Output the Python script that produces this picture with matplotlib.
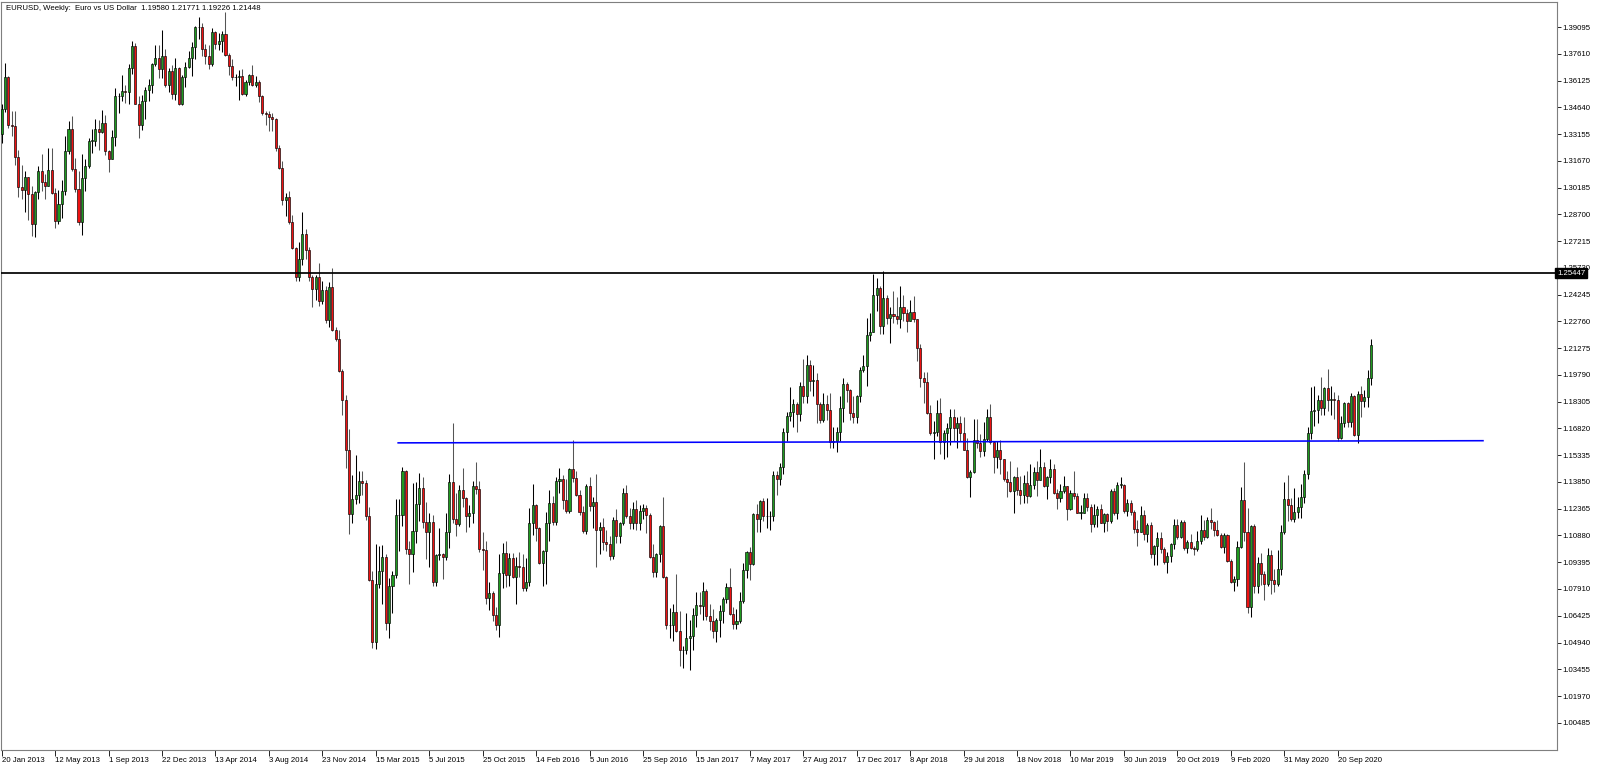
import matplotlib
matplotlib.use("Agg")
import matplotlib.pyplot as plt
import matplotlib.transforms as mtransforms

# Weekly EURUSD candles, one value per week starting with the week of 20 Jan 2013.
# Open of each week = close of the week before (first open given separately).
first_open = 1.3315

close_2013 = [1.3457, 1.3635, 1.3365, 1.3362, 1.3190, 1.3020, 1.3003, 1.3075, 1.2985, 1.2817,
              1.2993, 1.3110, 1.3050, 1.3030, 1.3115, 1.2990, 1.2836, 1.2930, 1.3000, 1.3220,
              1.3345, 1.3120, 1.3010, 1.2830, 1.3070, 1.3140, 1.3280, 1.3280, 1.3345, 1.3330,
              1.3380, 1.3220, 1.3180, 1.3300, 1.3525, 1.3525, 1.3555, 1.3550, 1.3685, 1.3805,
              1.3485, 1.3365, 1.3500, 1.3560, 1.3590, 1.3705, 1.3740, 1.3675, 1.3750, 1.3590]
high_2013 = [1.3480, 1.3711, 1.3640, 1.3445, 1.3445, 1.3225, 1.3145, 1.3110, 1.3075, 1.3030,
             1.3000, 1.3140, 1.3205, 1.3095, 1.3240, 1.3240, 1.3015, 1.3005, 1.3060, 1.3305,
             1.3390, 1.3415, 1.3185, 1.3110, 1.3205, 1.3175, 1.3295, 1.3345, 1.3400, 1.3395,
             1.3450, 1.3420, 1.3225, 1.3340, 1.3570, 1.3545, 1.3645, 1.3590, 1.3705, 1.3832,
             1.3820, 1.3525, 1.3530, 1.3575, 1.3620, 1.3710, 1.3810, 1.3810, 1.3893, 1.3790]
low_2013 = [1.3265, 1.3440, 1.3350, 1.3305, 1.3145, 1.2965, 1.2955, 1.2885, 1.2840, 1.2750,
            1.2745, 1.2955, 1.3000, 1.2955, 1.3030, 1.2985, 1.2795, 1.2815, 1.2850, 1.2980,
            1.3205, 1.3110, 1.2995, 1.2810, 1.2755, 1.3000, 1.3130, 1.3210, 1.3250, 1.3225,
            1.3320, 1.3200, 1.3105, 1.3175, 1.3250, 1.3435, 1.3500, 1.3490, 1.3485, 1.3650,
            1.3480, 1.3295, 1.3340, 1.3400, 1.3500, 1.3545, 1.3695, 1.3625, 1.3625, 1.3575]

close_2014 = [1.3665, 1.3540, 1.3680, 1.3485, 1.3635, 1.3690, 1.3740, 1.3800, 1.3910, 1.3910,
              1.3790, 1.3750, 1.3705, 1.3885, 1.3815, 1.3830, 1.3870, 1.3755, 1.3695, 1.3630,
              1.3635, 1.3640, 1.3540, 1.3605, 1.3645, 1.3590, 1.3605, 1.3525, 1.3430, 1.3425,
              1.3410, 1.3400, 1.3240, 1.3130, 1.2950, 1.2965, 1.2830, 1.2685, 1.2520, 1.2625,
              1.2760, 1.2670, 1.2525, 1.2455, 1.2525, 1.2390, 1.2450, 1.2285, 1.2465, 1.2230,
              1.2180, 1.2000]
high_2014 = [1.3685, 1.3700, 1.3740, 1.3690, 1.3645, 1.3715, 1.3775, 1.3825, 1.3915, 1.3966,
             1.3935, 1.3815, 1.3810, 1.3905, 1.3890, 1.3875, 1.3890, 1.3993, 1.3765, 1.3735,
             1.3650, 1.3670, 1.3675, 1.3615, 1.3650, 1.3700, 1.3640, 1.3615, 1.3530, 1.3445,
             1.3445, 1.3430, 1.3405, 1.3255, 1.3165, 1.2990, 1.3000, 1.2865, 1.2690, 1.2715,
             1.2885, 1.2790, 1.2690, 1.2535, 1.2535, 1.2600, 1.2500, 1.2470, 1.2495, 1.2570,
             1.2245, 1.2230]
low_2014 = [1.3550, 1.3510, 1.3505, 1.3475, 1.3475, 1.3575, 1.3685, 1.3640, 1.3735, 1.3845,
            1.3750, 1.3705, 1.3675, 1.3695, 1.3790, 1.3780, 1.3770, 1.3750, 1.3645, 1.3615,
            1.3585, 1.3505, 1.3530, 1.3525, 1.3590, 1.3580, 1.3575, 1.3495, 1.3420, 1.3365,
            1.3335, 1.3335, 1.3220, 1.3120, 1.2920, 1.2860, 1.2815, 1.2680, 1.2500, 1.2500,
            1.2590, 1.2620, 1.2500, 1.2358, 1.2395, 1.2360, 1.2375, 1.2270, 1.2245, 1.2225,
            1.2165, 1.1995]

close_2015 = [1.1840, 1.1565, 1.1205, 1.1290, 1.1315, 1.1390, 1.1380, 1.1195, 1.0840, 1.0495,
              1.0820, 1.0890, 1.0970, 1.0600, 1.0810, 1.0870, 1.1200, 1.1200, 1.1445, 1.1015,
              1.0985, 1.1115, 1.1265, 1.1350, 1.1165, 1.1105, 1.1165, 1.0830, 1.0980, 1.0985,
              1.0970, 1.1105, 1.1385, 1.1180, 1.1150, 1.1340, 1.1295, 1.1195, 1.1215, 1.1360,
              1.1345, 1.1015, 1.1005, 1.0740, 1.0770, 1.0645, 1.0590, 1.0880, 1.0990, 1.0870,
              1.0965, 1.0860]
high_2015 = [1.2010, 1.1870, 1.1680, 1.1425, 1.1535, 1.1445, 1.1445, 1.1395, 1.1245, 1.0890,
             1.1043, 1.1030, 1.1035, 1.0985, 1.0850, 1.0890, 1.1290, 1.1290, 1.1467, 1.1450,
             1.1060, 1.1380, 1.1385, 1.1435, 1.1410, 1.1275, 1.1215, 1.1200, 1.0985, 1.1130,
             1.0990, 1.1215, 1.1430, 1.1714, 1.1325, 1.1370, 1.1460, 1.1300, 1.1255, 1.1390,
             1.1495, 1.1390, 1.1105, 1.1060, 1.0830, 1.0780, 1.0690, 1.0985, 1.1045, 1.1060,
             1.0990, 1.0990]
low_2015 = [1.1755, 1.1460, 1.1098, 1.1155, 1.1260, 1.1270, 1.1315, 1.1175, 1.0835, 1.0462,
            1.0460, 1.0795, 1.0710, 1.0565, 1.0520, 1.0660, 1.0850, 1.1000, 1.1140, 1.0985,
            1.0819, 1.0885, 1.1045, 1.1170, 1.1130, 1.0955, 1.0915, 1.0810, 1.0805, 1.0950,
            1.0845, 1.0950, 1.1020, 1.1155, 1.1085, 1.1140, 1.1245, 1.1105, 1.1135, 1.1160,
            1.1320, 1.0995, 1.0895, 1.0705, 1.0675, 1.0615, 1.0565, 1.0524, 1.0795, 1.0800,
            1.0805, 1.0850]

close_2016 = [1.0920, 1.0915, 1.0795, 1.0830, 1.1155, 1.1255, 1.1130, 1.0935, 1.1000, 1.1155,
              1.1270, 1.1165, 1.1390, 1.1400, 1.1285, 1.1225, 1.1455, 1.1405, 1.1310, 1.1220,
              1.1115, 1.1365, 1.1250, 1.1275, 1.1117, 1.1135, 1.1050, 1.1040, 1.0975, 1.1175,
              1.1085, 1.1160, 1.1325, 1.1195, 1.1155, 1.1235, 1.1155, 1.1225, 1.1240, 1.1200,
              1.0970, 1.0885, 1.0985, 1.1140, 1.0855, 1.0590, 1.0590, 1.0665, 1.0560, 1.0450,
              1.0455, 1.0520]
high_2016 = [1.0970, 1.0995, 1.0985, 1.0965, 1.1240, 1.1375, 1.1260, 1.1135, 1.1005, 1.1220,
             1.1340, 1.1305, 1.1410, 1.1465, 1.1425, 1.1400, 1.1465, 1.1616, 1.1445, 1.1340,
             1.1250, 1.1375, 1.1415, 1.1300, 1.1428, 1.1165, 1.1185, 1.1120, 1.1085, 1.1190,
             1.1235, 1.1165, 1.1350, 1.1366, 1.1240, 1.1275, 1.1285, 1.1255, 1.1260, 1.1255,
             1.1210, 1.1040, 1.0990, 1.1145, 1.1300, 1.0865, 1.0685, 1.0710, 1.0875, 1.0670,
             1.0475, 1.0655]
low_2016 = [1.0710, 1.0860, 1.0780, 1.0780, 1.0810, 1.1090, 1.1060, 1.0930, 1.0810, 1.0820,
            1.1055, 1.1145, 1.1145, 1.1325, 1.1235, 1.1215, 1.1215, 1.1385, 1.1305, 1.1200,
            1.1100, 1.1095, 1.1225, 1.1130, 1.0912, 1.0985, 1.1005, 1.1000, 1.0950, 1.0955,
            1.1045, 1.1045, 1.1145, 1.1185, 1.1125, 1.1125, 1.1120, 1.1120, 1.1180, 1.1100,
            1.0965, 1.0860, 1.0860, 1.0940, 1.0850, 1.0570, 1.0520, 1.0505, 1.0555, 1.0365,
            1.0352, 1.0430]

close_2017 = [1.0530, 1.0645, 1.0700, 1.0695, 1.0780, 1.0640, 1.0615, 1.0560, 1.0620, 1.0670,
              1.0735, 1.0800, 1.0650, 1.0595, 1.0615, 1.0725, 1.0895, 1.0995, 1.0930, 1.1205,
              1.1180, 1.1280, 1.1195, 1.1195, 1.1195, 1.1425, 1.1400, 1.1470, 1.1665, 1.1750,
              1.1775, 1.1820, 1.1760, 1.1920, 1.1860, 1.2035, 1.1945, 1.1950, 1.1815, 1.1730,
              1.1820, 1.1785, 1.1605, 1.1610, 1.1665, 1.1795, 1.1930, 1.1895, 1.1770, 1.1745,
              1.1860, 1.2005]
high_2017 = [1.0620, 1.0685, 1.0775, 1.0775, 1.0830, 1.0790, 1.0710, 1.0680, 1.0630, 1.0700,
             1.0745, 1.0825, 1.0905, 1.0690, 1.0680, 1.0775, 1.0935, 1.1000, 1.1025, 1.1210,
             1.1265, 1.1285, 1.1295, 1.1295, 1.1225, 1.1445, 1.1445, 1.1490, 1.1685, 1.1775,
             1.1910, 1.1845, 1.1830, 1.1940, 1.2070, 1.2092, 1.2060, 1.2035, 1.1990, 1.1830,
             1.1880, 1.1870, 1.1880, 1.1690, 1.1690, 1.1860, 1.1960, 1.1940, 1.1900, 1.1860,
             1.1870, 1.2025]
low_2017 = [1.0340, 1.0455, 1.0580, 1.0650, 1.0620, 1.0620, 1.0565, 1.0520, 1.0495, 1.0525,
            1.0600, 1.0715, 1.0645, 1.0570, 1.0570, 1.0605, 1.0715, 1.0850, 1.0840, 1.0925,
            1.1110, 1.1110, 1.1170, 1.1130, 1.1120, 1.1170, 1.1310, 1.1370, 1.1430, 1.1610,
            1.1725, 1.1690, 1.1660, 1.1725, 1.1825, 1.1825, 1.1890, 1.1860, 1.1715, 1.1715,
            1.1720, 1.1730, 1.1575, 1.1575, 1.1554, 1.1610, 1.1720, 1.1830, 1.1730, 1.1715,
            1.1715, 1.1830]

close_2018 = [1.2030, 1.2200, 1.2220, 1.2425, 1.2460, 1.2250, 1.2405, 1.2295, 1.2315, 1.2305,
              1.2290, 1.2355, 1.2320, 1.2280, 1.2330, 1.2290, 1.2130, 1.1960, 1.1940, 1.1770,
              1.1655, 1.1660, 1.1770, 1.1605, 1.1655, 1.1685, 1.1745, 1.1685, 1.1715, 1.1655,
              1.1565, 1.1410, 1.1440, 1.1620, 1.1600, 1.1555, 1.1625, 1.1745, 1.1605, 1.1525,
              1.1560, 1.1510, 1.1400, 1.1385, 1.1335, 1.1415, 1.1340, 1.1315, 1.1380, 1.1305,
              1.1370, 1.1440]
high_2018 = [1.2090, 1.2295, 1.2325, 1.2537, 1.2515, 1.2475, 1.2555, 1.2425, 1.2355, 1.2445,
             1.2410, 1.2475, 1.2420, 1.2345, 1.2395, 1.2415, 1.2290, 1.2150, 1.1995, 1.1995,
             1.1810, 1.1725, 1.1840, 1.1850, 1.1675, 1.1715, 1.1790, 1.1790, 1.1745, 1.1750,
             1.1745, 1.1630, 1.1450, 1.1735, 1.1735, 1.1650, 1.1720, 1.1790, 1.1815, 1.1610,
             1.1610, 1.1620, 1.1515, 1.1445, 1.1500, 1.1420, 1.1470, 1.1420, 1.1425, 1.1445,
             1.1485, 1.1470]
low_2018 = [1.1995, 1.1915, 1.2165, 1.2215, 1.2335, 1.2205, 1.2205, 1.2260, 1.2155, 1.2270,
            1.2260, 1.2240, 1.2280, 1.2215, 1.2280, 1.2275, 1.2055, 1.1910, 1.1825, 1.1760,
            1.1645, 1.1510, 1.1640, 1.1540, 1.1510, 1.1525, 1.1590, 1.1610, 1.1575, 1.1615,
            1.1560, 1.1405, 1.1301, 1.1435, 1.1575, 1.1525, 1.1530, 1.1610, 1.1595, 1.1435,
            1.1460, 1.1430, 1.1390, 1.1300, 1.1330, 1.1215, 1.1310, 1.1265, 1.1270, 1.1270,
            1.1300, 1.1345]

close_2019 = [1.1395, 1.1470, 1.1365, 1.1410, 1.1455, 1.1325, 1.1295, 1.1335, 1.1365, 1.1235,
              1.1325, 1.1305, 1.1215, 1.1215, 1.1295, 1.1245, 1.1150, 1.1200, 1.1235, 1.1160,
              1.1205, 1.1170, 1.1335, 1.1210, 1.1370, 1.1370, 1.1225, 1.1270, 1.1220, 1.1125,
              1.1110, 1.1200, 1.1095, 1.1145, 1.0985, 1.1030, 1.1075, 1.1015, 1.0940, 1.0975,
              1.1040, 1.1145, 1.1080, 1.1165, 1.1020, 1.1050, 1.1020, 1.1015, 1.1060, 1.1120,
              1.1080, 1.1175]
high_2019 = [1.1500, 1.1570, 1.1495, 1.1420, 1.1515, 1.1485, 1.1345, 1.1375, 1.1420, 1.1365,
             1.1340, 1.1448, 1.1325, 1.1255, 1.1325, 1.1325, 1.1265, 1.1265, 1.1250, 1.1265,
             1.1215, 1.1210, 1.1345, 1.1350, 1.1385, 1.1412, 1.1375, 1.1290, 1.1285, 1.1230,
             1.1175, 1.1250, 1.1230, 1.1160, 1.1165, 1.1035, 1.1110, 1.1110, 1.1025, 1.0995,
             1.1045, 1.1180, 1.1179, 1.1175, 1.1175, 1.1065, 1.1095, 1.1030, 1.1115, 1.1200,
             1.1175, 1.1190]
low_2019 = [1.1305, 1.1395, 1.1355, 1.1290, 1.1380, 1.1320, 1.1235, 1.1275, 1.1325, 1.1176,
            1.1230, 1.1290, 1.1210, 1.1180, 1.1210, 1.1225, 1.1110, 1.1135, 1.1135, 1.1155,
            1.1105, 1.1115, 1.1160, 1.1200, 1.1180, 1.1350, 1.1210, 1.1195, 1.1200, 1.1100,
            1.1027, 1.1105, 1.1065, 1.1050, 1.0965, 1.0926, 1.0925, 1.0990, 1.0930, 1.0879,
            1.0940, 1.1015, 1.1070, 1.1075, 1.1010, 1.0990, 1.1015, 1.0980, 1.1000, 1.1040,
            1.1065, 1.1075]

close_2020 = [1.1165, 1.1120, 1.1090, 1.1025, 1.1090, 1.0945, 1.0830, 1.0845, 1.1025, 1.1285,
              1.1105, 1.0690, 1.1140, 1.0805, 1.0935, 1.0875, 1.0820, 1.0980, 1.0840, 1.0820,
              1.0900, 1.1105, 1.1290, 1.1255, 1.1180, 1.1220, 1.1245, 1.1300, 1.1430, 1.1655,
              1.1780, 1.1785, 1.1840, 1.1795, 1.1905, 1.1840, 1.1845, 1.1840, 1.1630, 1.1715,
              1.1825, 1.1720, 1.1860, 1.1645, 1.1875, 1.1835, 1.1855, 1.1960, 1.2145]
high_2020 = [1.1240, 1.1170, 1.1175, 1.1100, 1.1100, 1.1095, 1.0955, 1.0865, 1.1055, 1.1355,
             1.1495, 1.1240, 1.1147, 1.1150, 1.0970, 1.0990, 1.0890, 1.1020, 1.1010, 1.0900,
             1.1010, 1.1145, 1.1385, 1.1422, 1.1295, 1.1350, 1.1300, 1.1375, 1.1450, 1.1690,
             1.1910, 1.1915, 1.1865, 1.1966, 1.1910, 1.2011, 1.1915, 1.1885, 1.1870, 1.1750,
             1.1830, 1.1830, 1.1880, 1.1870, 1.1890, 1.1920, 1.1895, 1.2005, 1.2177]
low_2020 = [1.1125, 1.1085, 1.1085, 1.1020, 1.0990, 1.0940, 1.0825, 1.0778, 1.0810, 1.1020,
            1.1055, 1.0655, 1.0636, 1.0770, 1.0770, 1.0815, 1.0730, 1.0810, 1.0765, 1.0775,
            1.0810, 1.0870, 1.1095, 1.1170, 1.1170, 1.1165, 1.1185, 1.1185, 1.1270, 1.1400,
            1.1625, 1.1695, 1.1710, 1.1755, 1.1755, 1.1780, 1.1755, 1.1735, 1.1612, 1.1625,
            1.1690, 1.1690, 1.1690, 1.1640, 1.1603, 1.1745, 1.1800, 1.1800, 1.1924]

# horizontal levels drawn on the chart
resistance = 1.25447
trend_weeks = [118.7, 443.5]
trend_prices = [1.1602, 1.1614]

title = "EURUSD, Weekly:  Euro vs US Dollar  1.19580 1.21771 1.19226 1.21448"

date_labels = ["20 Jan 2013", "12 May 2013", "1 Sep 2013", "22 Dec 2013", "13 Apr 2014",
               "3 Aug 2014", "23 Nov 2014", "15 Mar 2015", "5 Jul 2015", "25 Oct 2015",
               "14 Feb 2016", "5 Jun 2016", "25 Sep 2016", "15 Jan 2017", "7 May 2017",
               "27 Aug 2017", "17 Dec 2017", "8 Apr 2018", "29 Jul 2018", "18 Nov 2018",
               "10 Mar 2019", "30 Jun 2019", "20 Oct 2019", "9 Feb 2020", "31 May 2020",
               "20 Sep 2020"]
price_labels = ["1.39095", "1.37610", "1.36125", "1.34640", "1.33155", "1.31670", "1.30185",
                "1.28700", "1.27215", "1.25730", "1.24245", "1.22760", "1.21275", "1.19790",
                "1.18305", "1.16820", "1.15335", "1.13850", "1.12365", "1.10880", "1.09395",
                "1.07910", "1.06425", "1.04940", "1.03455", "1.01970", "1.00485"]

closes = (close_2013 + close_2014 + close_2015 + close_2016 + close_2017
          + close_2018 + close_2019 + close_2020)
highs = (high_2013 + high_2014 + high_2015 + high_2016 + high_2017
         + high_2018 + high_2019 + high_2020)
lows = (low_2013 + low_2014 + low_2015 + low_2016 + low_2017
        + low_2018 + low_2019 + low_2020)
opens = [first_open] + closes[:-1]
weeks = list(range(len(closes)))

W, H = 1600, 767
FONT = "Liberation Sans"
FS = 5.6

fig = plt.figure(figsize=(W / 100, H / 100), dpi=100)
ax = fig.add_axes([1 / W, 17 / H, 1556 / W, 748 / H])
ax.set_xlim(-0.21, 465.66)
ax.set_ylim(0.98974, 1.40488)

# wicks
wick_cols = ["black" if c >= o else "#555555" for o, c in zip(opens, closes)]
ax.vlines(weeks, lows, highs, colors=wick_cols, linewidth=0.75, zorder=3)

# bodies
bottoms = [min(o, c) for o, c in zip(opens, closes)]
heights = [max(abs(c - o), 0.00025) for o, c in zip(opens, closes)]
faces = ["#1f9a1f" if c >= o else "#ee1111" for o, c in zip(opens, closes)]
ax.bar(weeks, heights, bottom=bottoms, width=0.62, color=faces,
       edgecolor="black", linewidth=0.45, zorder=4)

ax.axhline(resistance, color="black", linewidth=1.25, zorder=5)
ax.plot(trend_weeks, trend_prices, color="#0000ff", linewidth=1.15, zorder=5)

# axes styling, MT4 look
for side in ("left", "right", "top", "bottom"):
    ax.spines[side].set_color("#7f7f7f")
    ax.spines[side].set_linewidth(0.8)

ax.yaxis.tick_right()
ax.set_yticks([float(s) for s in price_labels])
ax.set_yticklabels(price_labels, fontsize=FS, family=FONT)
ax.tick_params(axis="y", length=3, width=0.6, pad=1.2, colors="black")

ax.set_xticks(weeks[0:401:16])
ax.set_xticklabels(date_labels, fontsize=FS, family=FONT)
for lab in ax.get_xticklabels():
    lab.set_horizontalalignment("left")
ax.tick_params(axis="x", length=4, width=0.6, pad=1.0, colors="black")

# current level tag on the price scale
tag_tr = mtransforms.blended_transform_factory(ax.transAxes, ax.transData)
ax.text(1.0, resistance, "1.25447", transform=tag_tr, ha="left", va="center",
        fontsize=FS, family=FONT, color="white", zorder=10,
        bbox=dict(boxstyle="square,pad=0.2", facecolor="black", edgecolor="black"))

fig.text(6 / W, 1 - 8 / H, title, ha="left", va="center", fontsize=FS,
         family=FONT, color="black")

fig.savefig("out.png", dpi=100, facecolor="white")
